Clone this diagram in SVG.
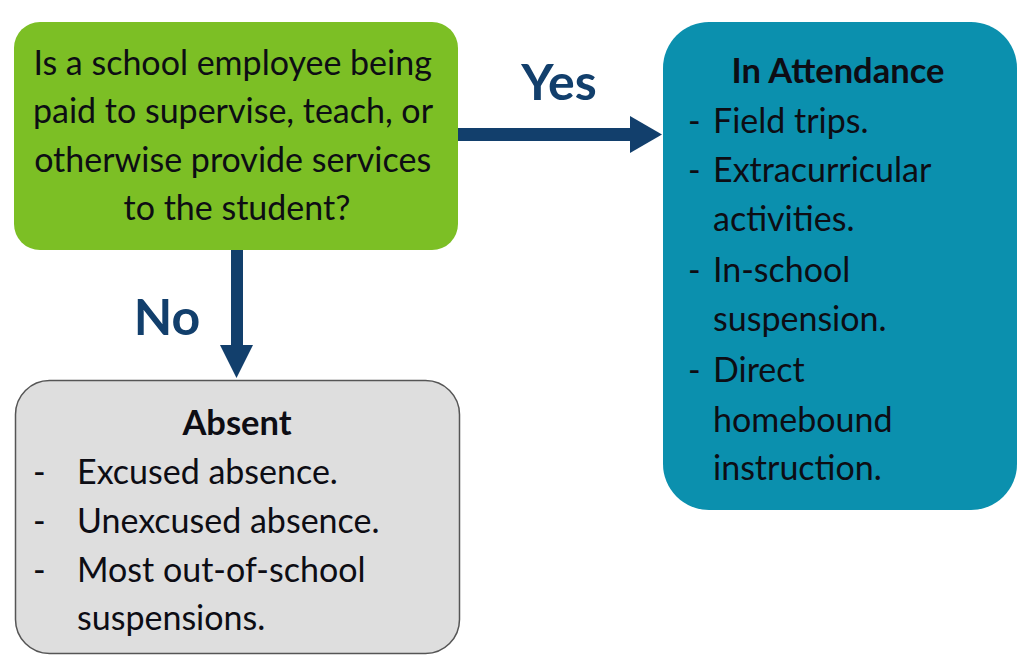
<svg xmlns="http://www.w3.org/2000/svg" width="1026" height="662" viewBox="0 0 1026 662">
<defs>
<style>
.t{font-family:Lato,"Open Sans","Liberation Sans",sans-serif;font-size:34px;fill:#0d0d14}
.b{font-weight:bold;font-size:34.5px}
.lbl{font-family:Lato,"Open Sans","Liberation Sans",sans-serif;font-size:50px;font-weight:bold;fill:#123f6c}
.ar{fill:#123f6c}
</style>
</defs>
<rect width="1026" height="662" fill="#ffffff"/>
<g id="connectors">
<rect class="ar" x="458" y="128" width="174" height="13"/>
<polygon class="ar" points="630,116 662,134.5 630,153"/>
<rect class="ar" x="231" y="250" width="12" height="97"/>
<polygon class="ar" points="220,345 253,345 236.5,378"/>
<text class="lbl" x="559" y="100" text-anchor="middle">Yes</text>
<text class="lbl" x="167" y="335" text-anchor="middle">No</text>
</g>
<g id="question">
<rect x="14" y="22" width="444" height="228" rx="26" fill="#7cbf25"/>
<text class="t" text-anchor="middle">
<tspan x="237" y="75">Is a school employee being</tspan>
<tspan x="237" y="123">paid to supervise, teach, or</tspan>
<tspan x="237" y="172">otherwise provide services</tspan>
<tspan x="237" y="220">to the student?</tspan>
</text>
</g>
<g id="attendance">
<rect x="663" y="22" width="354" height="488" rx="46" fill="#0b90ae"/>
<text class="t b" x="838" y="83" text-anchor="middle">In Attendance</text>
<text class="t">
<tspan x="688" y="133">-</tspan><tspan x="713" y="133">Field trips.</tspan>
<tspan x="688" y="182">-</tspan><tspan x="713" y="182">Extracurricular</tspan>
<tspan x="713" y="231">activities.</tspan>
<tspan x="688" y="282">-</tspan><tspan x="713" y="282">In-school</tspan>
<tspan x="713" y="331">suspension.</tspan>
<tspan x="688" y="382">-</tspan><tspan x="713" y="382">Direct</tspan>
<tspan x="713" y="432">homebound</tspan>
<tspan x="713" y="480">instruction.</tspan>
</text>
</g>
<g id="absent">
<rect x="15.5" y="380.5" width="444" height="273" rx="34" fill="#dedede" stroke="#555" stroke-width="1.5"/>
<text class="t b" x="237" y="435" text-anchor="middle">Absent</text>
<text class="t">
<tspan x="33" y="484">-</tspan><tspan x="77" y="484">Excused absence.</tspan>
<tspan x="33" y="533">-</tspan><tspan x="77" y="533">Unexcused absence.</tspan>
<tspan x="33" y="582">-</tspan><tspan x="77" y="582">Most out-of-school</tspan>
<tspan x="77" y="630">suspensions.</tspan>
</text>
</g>
</svg>
